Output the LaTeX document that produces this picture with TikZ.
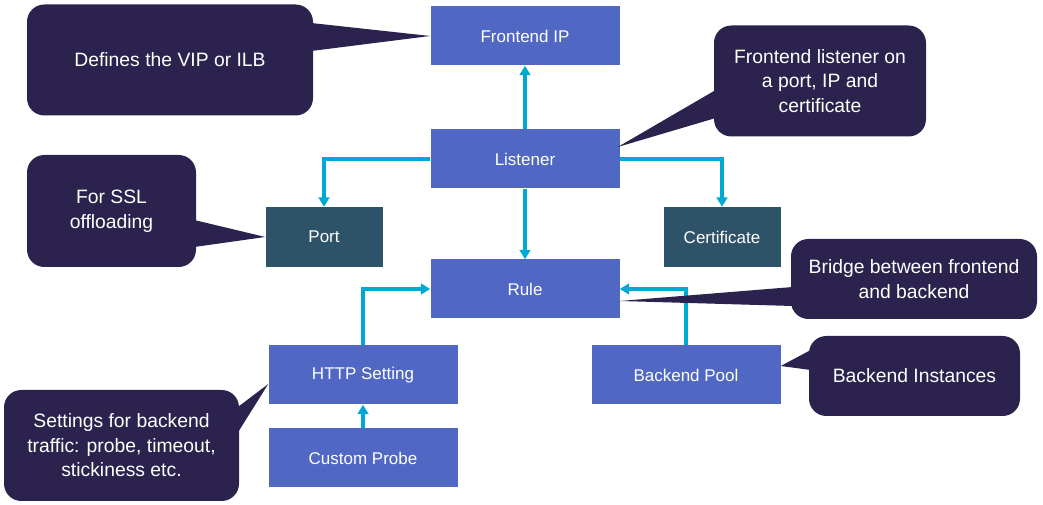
\documentclass[tikz,border=0pt]{standalone}
\usepackage{fontspec}
\setmainfont{Liberation Sans}
\usetikzlibrary{arrows.meta,calc}
\definecolor{boxblue}{HTML}{5068C4}
\definecolor{boxteal}{HTML}{2E5368}
\definecolor{notenavy}{HTML}{2B234D}
\definecolor{linkcyan}{HTML}{00A8D6}

\begin{document}
\begin{tikzpicture}[x=0.75pt, y=-0.75pt,
    box/.style={fill=boxblue, text=white, inner sep=0pt, minimum width=141.75pt, minimum height=44.25pt, font=\fontsize{12.75}{15}\selectfont},
    darkbox/.style={box, fill=boxteal, minimum width=87.75pt, minimum height=45pt},
    note/.style={fill=notenavy, text=white, rounded corners=13pt, inner sep=0pt, align=center, font=\fontsize{14.5}{18.4}\selectfont},
    link/.style={-{Triangle[length=7pt,width=8pt]}, draw=linkcyan, line width=2.8pt}]
    \useasboundingbox (0,0) rectangle (1043,505);

    % Draw the blocks of the gateway
    \node[box] (fip) at (525,36) {Frontend IP};
    \node[box] (lis) at (525,159) {Listener};
    \node[darkbox] (port) at (324,237) {Port};
    \node[darkbox] (cert) at (722,237) {Certificate};
    \node[box] (rule) at (525,289) {Rule};
    \node[box] (http) at (363,375) {HTTP Setting};
    \node[box] (probe) at (363,458) {Custom Probe};
    \node[box] (pool) at (686,375) {Backend Pool};

    % Draw the connectors
    \draw[link] (lis) -- (fip);
    \draw[link] (lis) -| (port);
    \draw[link] (lis) -| (cert);
    \draw[link] (lis) -- (rule);
    \draw[link] (http) |- (rule);
    \draw[link] (pool) |- (rule);
    \draw[link] (probe) -- (http);

    % Draw the callouts with their pointers
    \node[note, minimum width=214.5pt, minimum height=83.25pt] (vip) at (170,60) {Defines the VIP or ILB};
    \fill[notenavy] (fip.west) -- ($(vip.east)+(-2,-37)$) -- ($(vip.east)+(-2,-9)$) -- cycle;
    \node[note, minimum width=159pt, minimum height=83.25pt] (lisnote) at (820,81) {Frontend listener on\\a port, IP and\\certificate};
    \fill[notenavy] ($(lis.east)+(-2,-12)$) -- ($(lisnote.west)+(2,9)$) -- ($(lisnote.west)+(2,37)$) -- cycle;
    \node[note, minimum width=126.75pt, minimum height=84pt] (ssl) at (111.5,211) {For SSL\\offloading};
    \fill[notenavy] (port.west) -- ($(ssl.east)+(-2,9)$) -- ($(ssl.east)+(-2,36)$) -- cycle;
    \node[note, minimum width=184.5pt, minimum height=60pt] (bridge) at (914,279) {Bridge between frontend\\and backend};
    \fill[notenavy] ($(rule.east)+(0,12)$) -- ($(bridge.west)+(2,8)$) -- ($(bridge.west)+(2,27)$) -- cycle;
    \node[note, minimum width=158.25pt, minimum height=60pt] (inst) at (914.5,376) {Backend Instances};
    \fill[notenavy] ($(pool.east)+(0,-9)$) -- ($(inst.west)+(2,-26)$) -- ($(inst.west)+(2,-6)$) -- cycle;
    \node[note, minimum width=176.25pt, minimum height=83.25pt] (set) at (121.5,445.5) {Settings for backend\\traffic: probe, timeout,\\stickiness etc.};
    \fill[notenavy] ($(http.west)+(0,9)$) -- ($(set.east)+(-2,-38)$) -- ($(set.east)+(-2,-12)$) -- cycle;

\end{tikzpicture}
\end{document}
